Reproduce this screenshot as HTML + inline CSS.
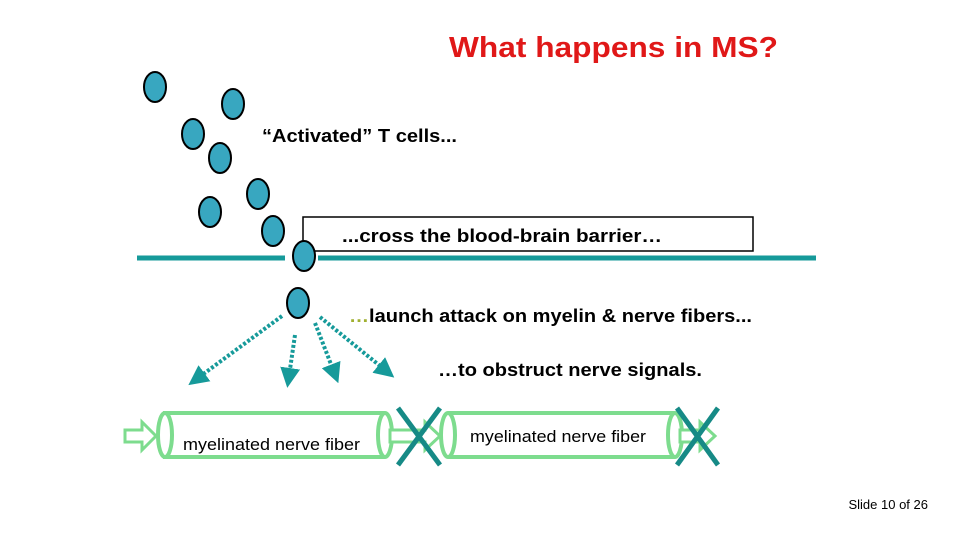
<!DOCTYPE html>
<html><head><meta charset="utf-8"><style>
html,body{margin:0;padding:0;background:#fff}
svg{display:block}
text{font-family:"Liberation Sans",Arial,sans-serif}
</style></head><body>
<svg width="960" height="540" viewBox="0 0 960 540" xmlns="http://www.w3.org/2000/svg">
<defs>
<marker id="ah" markerWidth="5" markerHeight="5" refX="2" refY="2.5" orient="auto" markerUnits="strokeWidth">
<path d="M0,0 L5,2.5 L0,5 z" fill="#169a9a"/></marker>
</defs>
<text x="449" y="57" font-size="29" font-weight="bold" fill="#e01818" textLength="329" lengthAdjust="spacingAndGlyphs">What happens in MS?</text>
<text x="262" y="142" font-size="18" font-weight="bold" fill="#000" textLength="195" lengthAdjust="spacingAndGlyphs">“Activated” T cells...</text>
<rect x="303" y="217" width="450" height="34" fill="#fff" stroke="#000" stroke-width="1.5"/>
<text x="342" y="242" font-size="18" font-weight="bold" fill="#000" textLength="320" lengthAdjust="spacingAndGlyphs">...cross the blood-brain barrier…</text>
<line x1="137" y1="258" x2="285" y2="258" stroke="#169a9a" stroke-width="5"/>
<line x1="318" y1="258" x2="816" y2="258" stroke="#169a9a" stroke-width="5"/>
<g fill="#38a7c0" stroke="#000" stroke-width="2">
<ellipse cx="155" cy="87" rx="11" ry="15"/>
<ellipse cx="233" cy="104" rx="11" ry="15"/>
<ellipse cx="193" cy="134" rx="11" ry="15"/>
<ellipse cx="220" cy="158" rx="11" ry="15"/>
<ellipse cx="258" cy="194" rx="11" ry="15"/>
<ellipse cx="210" cy="212" rx="11" ry="15"/>
<ellipse cx="273" cy="231" rx="11" ry="15"/>
<ellipse cx="304" cy="256" rx="11" ry="15"/>
<ellipse cx="298" cy="303" rx="11" ry="15"/>
</g>
<text x="349" y="322" font-size="18" font-weight="bold" textLength="403" lengthAdjust="spacingAndGlyphs"><tspan fill="#a0b030">…</tspan><tspan fill="#000">launch attack on myelin &amp; nerve fibers...</tspan></text>
<text x="438" y="376" font-size="18" font-weight="bold" fill="#000" textLength="264" lengthAdjust="spacingAndGlyphs">…to obstruct nerve signals.</text>
<g stroke="#169a9a" stroke-width="4" stroke-dasharray="3,2" fill="none" marker-end="url(#ah)">
<line x1="282" y1="316" x2="198" y2="378"/>
<line x1="295" y1="335" x2="289" y2="376"/>
<line x1="315" y1="323" x2="334" y2="372"/>
<line x1="320" y1="317" x2="385" y2="370"/>
</g>
<g stroke="#7ddc8e" stroke-width="4" fill="#fff">
<path d="M125,430 H142 V422 L156,436 L142,450 V442 H125 Z" stroke-width="3"/>
<path d="M163,413 H385 M163,457 H385"/>
<ellipse cx="165" cy="435" rx="7" ry="22"/>
<ellipse cx="385" cy="435" rx="7" ry="22" fill="none"/>
<path d="M390,430 H425 V422 L440,436 L425,450 V442 H390 Z" stroke-width="3"/>
<path d="M448,413 H675 M448,457 H675"/>
<ellipse cx="448" cy="435" rx="7" ry="22"/>
<ellipse cx="675" cy="435" rx="7" ry="22" fill="none"/>
<path d="M680,430 H700 V422 L715,436 L700,450 V442 H680 Z" stroke-width="3"/>
</g>
<text x="183" y="450" font-size="17" fill="#000" textLength="177" lengthAdjust="spacingAndGlyphs">myelinated nerve fiber</text>
<text x="470" y="442" font-size="17" fill="#000" textLength="176" lengthAdjust="spacingAndGlyphs">myelinated nerve fiber</text>
<g stroke="#168a86" stroke-width="5">
<line x1="398" y1="408" x2="440" y2="465"/><line x1="440" y1="408" x2="398" y2="465"/>
<line x1="677" y1="408" x2="718" y2="465"/><line x1="718" y1="408" x2="677" y2="465"/>
</g>
<text x="928" y="509" font-size="13" fill="#000" text-anchor="end">Slide 10 of 26</text>
</svg>
</body></html>
